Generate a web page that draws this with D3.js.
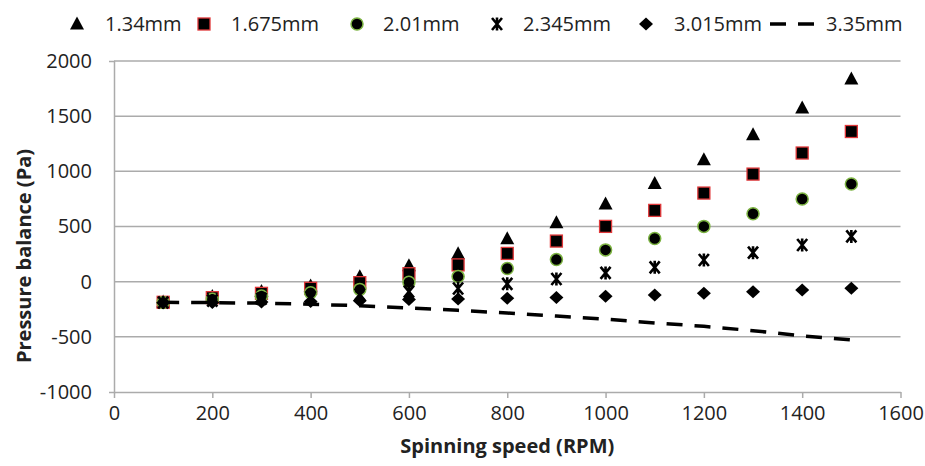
<!DOCTYPE html>
<html>
<head>
<meta charset="utf-8">
<script src="https://cdn.jsdelivr.net/npm/d3@7"></script>
<style>
  body { margin: 0; background: #fff; }
  svg { display: block; font-family: "Open Sans", sans-serif; }
</style>
</head>
<body>
<svg id="chart" width="925" height="466"></svg>
<script>
// spinning speed (RPM)
const rpm = [100, 200, 300, 400, 500, 600, 700, 800, 900, 1000, 1100, 1200, 1300, 1400, 1500];

// pressure balance (Pa) per gap size
const gap134 = [-185, -135, -88, -40, 45, 145, 252, 388, 533, 704, 890, 1105, 1331, 1573, 1836];
const gap1675 = [-187, -145, -106, -60, -9, 72, 152, 256, 368, 501, 646, 803, 975, 1166, 1361];
const gap201 = [-188, -160, -130, -100, -70, -6, 46, 120, 200, 288, 392, 501, 616, 749, 885];
const gap2345 = [-189, -172, -155, -140, -115, -90, -62, -20, 24, 79, 130, 196, 263, 332, 410];
const gap3015 = [-190, -188, -185, -180, -172, -162, -158, -150, -143, -133, -121, -106, -91, -75, -60];
const gap335 = [-187, -190, -195, -205, -218, -238, -260, -284, -311, -340, -374, -405, -444, -492, -528];

const seriesNames = ['1.34mm', '1.675mm', '2.01mm', '2.345mm', '3.015mm', '3.35mm'];
const xTicks = [0, 200, 400, 600, 800, 1000, 1200, 1400, 1600];
const yTicks = [-1000, -500, 0, 500, 1000, 1500, 2000];

const svg = d3.select('#chart');

const x = d3.scaleLinear().domain([0, 1600]).range([114, 900.5]);
const y = d3.scaleLinear().domain([-1000, 2000]).range([392, 61]);

const gridColor = '#ababab';
const textColor = '#222';
const fmt = d => String(d);

// horizontal gridlines
svg.append('g')
    .selectAll('line')
    .data(yTicks.filter(d => d > -1000))
    .join('line')
    .attr('x1', x(0))
    .attr('x2', x(1600))
    .attr('y1', d => y(d))
    .attr('y2', d => y(d))
    .attr('stroke', gridColor)
    .attr('stroke-width', 1.5);

// y axis
const yAxis = svg.append('g')
    .attr('transform', `translate(${x(0)},0)`)
    .call(d3.axisLeft(y).tickValues(yTicks).tickFormat(fmt)
        .tickSizeInner(0).tickSizeOuter(5).tickPadding(22));
yAxis.select('.domain').attr('stroke', gridColor).attr('stroke-width', 1.5);
yAxis.selectAll('text')
    .attr('fill', textColor)
    .style('font-size', '20px')
    .style('font-family', '"Open Sans", sans-serif');

// x axis
const xAxis = svg.append('g')
    .attr('transform', `translate(0,${y(-1000)})`)
    .call(d3.axisBottom(x).tickValues(xTicks).tickFormat(fmt)
        .tickSize(6).tickSizeOuter(0).tickPadding(8));
xAxis.select('.domain').attr('stroke', gridColor).attr('stroke-width', 1.5);
xAxis.selectAll('.tick line').attr('stroke', gridColor).attr('stroke-width', 1.5);
xAxis.selectAll('text')
    .attr('fill', textColor)
    .style('font-size', '20px')
    .style('font-family', '"Open Sans", sans-serif');

// axis titles
svg.append('text')
    .attr('x', (x(0) + x(1600)) / 2)
    .attr('y', 453)
    .attr('text-anchor', 'middle')
    .attr('fill', textColor)
    .style('font-size', '20px')
    .style('font-weight', 'bold')
    .text('Spinning speed (RPM)');

svg.append('text')
    .attr('transform', 'translate(31,256) rotate(-90)')
    .attr('text-anchor', 'middle')
    .attr('fill', textColor)
    .style('font-size', '20px')
    .style('font-weight', 'bold')
    .text('Pressure balance (Pa)');

// marker shapes
const triPath = 'M0,-7.5L7,5.5L-7,5.5Z';
const diamondPath = 'M0,-6.5L7,0L0,6.5L-7,0Z';
const starPath = 'M-5,-6L5,6M5,-6L-5,6M0,-6.5L0,6.5';

function drawMarker(g, kind) {
    if (kind === 'tri') {
        g.append('path').attr('d', triPath).attr('fill', '#000');
    } else if (kind === 'sq') {
        g.append('rect').attr('x', -6).attr('y', -6).attr('width', 12).attr('height', 12)
            .attr('fill', '#000').attr('stroke', '#e0383a').attr('stroke-width', 1.3);
    } else if (kind === 'circ') {
        g.append('circle').attr('r', 6)
            .attr('fill', '#000').attr('stroke', '#7cb342').attr('stroke-width', 1.5);
    } else if (kind === 'star') {
        g.append('path').attr('d', starPath)
            .attr('fill', 'none').attr('stroke', '#000').attr('stroke-width', 2.6);
    } else if (kind === 'dia') {
        g.append('path').attr('d', diamondPath).attr('fill', '#000');
    }
}

const markerSeries = [
    { values: gap134, kind: 'tri' },
    { values: gap1675, kind: 'sq' },
    { values: gap201, kind: 'circ' },
    { values: gap2345, kind: 'star' },
    { values: gap3015, kind: 'dia' }
];

markerSeries.forEach(s => {
    svg.append('g')
        .selectAll('g')
        .data(rpm.map((r, i) => ({ r, v: s.values[i] })))
        .join('g')
        .attr('transform', d => `translate(${x(d.r)},${y(d.v)})`)
        .each(function () { drawMarker(d3.select(this), s.kind); });
});

// 3.35mm dashed line
const line = d3.line()
    .x(d => x(d.r))
    .y(d => y(d.v));

svg.append('path')
    .datum(rpm.map((r, i) => ({ r, v: gap335[i] })))
    .attr('d', line)
    .attr('fill', 'none')
    .attr('stroke', '#000')
    .attr('stroke-width', 3.5)
    .attr('stroke-dasharray', '16,12');

// legend
const legendItems = [
    { kind: 'tri', mx: 77, tx: 105 },
    { kind: 'sq', mx: 204, tx: 231 },
    { kind: 'circ', mx: 357, tx: 383 },
    { kind: 'star', mx: 497, tx: 523 },
    { kind: 'dia', mx: 646, tx: 674 },
    { kind: 'dash', mx: 770, tx: 826 }
];

const legend = svg.append('g');
legendItems.forEach((item, i) => {
    const g = legend.append('g');
    if (item.kind === 'dash') {
        g.append('line')
            .attr('x1', item.mx).attr('x2', item.mx + 44)
            .attr('y1', 24).attr('y2', 24)
            .attr('stroke', '#000').attr('stroke-width', 3.5)
            .attr('stroke-dasharray', '16,12');
    } else {
        drawMarker(g.append('g').attr('transform', `translate(${item.mx},24)`), item.kind);
    }
    g.append('text')
        .attr('x', item.tx)
        .attr('y', 31)
        .attr('fill', textColor)
        .style('font-size', '20px')
        .text(seriesNames[i]);
});
</script>
</body>
</html>
